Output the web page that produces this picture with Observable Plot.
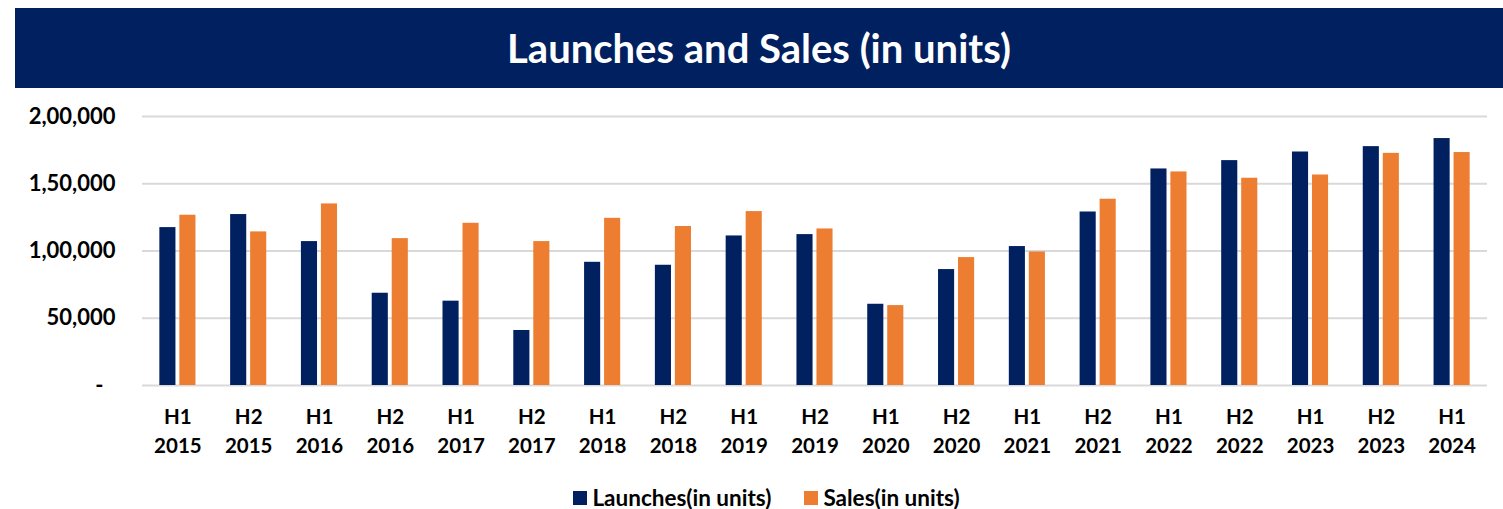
<!DOCTYPE html>
<html>
<head>
<meta charset="utf-8">
<script src="https://cdn.jsdelivr.net/npm/d3@7"></script>
<script src="https://cdn.jsdelivr.net/npm/@observablehq/plot@0.6"></script>
<style>
  html, body { margin: 0; padding: 0; background: #fff; }
  body { width: 1503px; height: 509px; overflow: hidden; font-family: Lato, "Open Sans", sans-serif; }
  #title { position: absolute; left: 15px; top: 8px; width: 1488px; height: 80px; background: #002060;
           color: #fff; font-weight: 700; font-size: 40px; display: flex; align-items: center; justify-content: center; }
  #chart { position: absolute; left: 0; top: 88px; }
  #legend { position: absolute; left: 0; top: 484px; width: 1503px; display: flex; justify-content: center; gap: 33px;
            font-weight: 700; font-size: 22.5px; color: #000; padding-left: 30px; box-sizing: border-box; }
  .item { display: flex; align-items: center; gap: 5px; }
  .sw { width: 14px; height: 14px; display: inline-block; }
</style>
</head>
<body>
<div id="title">Launches and Sales (in units)</div>
<div id="chart"></div>
<div id="legend"></div>
<script>
const periods = ["H1 2015","H2 2015","H1 2016","H2 2016","H1 2017","H2 2017","H1 2018","H2 2018","H1 2019","H2 2019","H1 2020","H2 2020","H1 2021","H2 2021","H1 2022","H2 2022","H1 2023","H2 2023","H1 2024"];
const launches = [117400,127100,107000,68600,62700,40900,91600,89400,111200,112200,60400,86200,103300,129000,161000,167200,173600,177600,183600];
const sales    = [126600,114200,135000,109200,120600,107000,124300,118200,129300,116400,59400,95100,99300,138500,158800,154100,156500,172600,173200];
const seriesNames = ["Launches(in units)", "Sales(in units)"];
const seriesColors = ["#002060", "#ED7D31"];
const yTicks = [50000, 100000, 150000, 200000];
const yTickLabels = ["50,000", "1,00,000", "1,50,000", "2,00,000"];
const zeroLabel = "-";

const launchData = periods.map((p, i) => ({period: p, value: launches[i]}));
const salesData = periods.map((p, i) => ({period: p, value: sales[i]}));

const font = "Lato, 'Open Sans', sans-serif";
const chart = Plot.plot({
  width: 1503,
  height: 380,
  marginTop: 28,
  marginBottom: 83,
  marginLeft: 142,
  marginRight: 16,
  style: {fontFamily: font, fontWeight: 700, fontSize: "20px", color: "#000", background: "#fff"},
  x: {domain: periods, paddingInner: 0.49, paddingOuter: 0.245, align: 0.5, round: false},
  y: {domain: [0, 200000]},
  marks: [
    Plot.ruleY([0, ...yTicks], {stroke: "#d9d9d9", strokeWidth: 2}),
    Plot.barY(launchData, {x: "period", y: "value", fill: seriesColors[0], insetRight: 20}),
    Plot.barY(salesData, {x: "period", y: "value", fill: seriesColors[1], insetLeft: 20}),
    Plot.axisY(yTicks, {tickSize: 0, tickPadding: 27, label: null,
      tickFormat: d => yTickLabels[yTicks.indexOf(d)], fontSize: 22, fontWeight: 700}),
    Plot.axisY([0], {tickSize: 0, tickPadding: 39, label: null, tickFormat: () => zeroLabel, fontSize: 22, fontWeight: 700}),
    Plot.axisX({tickSize: 0, tickPadding: 18, label: null, lineHeight: 1.4,
      tickFormat: d => d.replace(" ", "\n"), fontSize: 20.5, fontWeight: 700})
  ]
});
document.getElementById("chart").appendChild(chart);

const legend = document.getElementById("legend");
seriesNames.forEach((name, i) => {
  const it = document.createElement("div");
  it.className = "item";
  const sw = document.createElement("span");
  sw.className = "sw";
  sw.style.background = seriesColors[i];
  const tx = document.createElement("span");
  tx.textContent = name;
  it.appendChild(sw); it.appendChild(tx);
  legend.appendChild(it);
});
</script>
</body>
</html>
